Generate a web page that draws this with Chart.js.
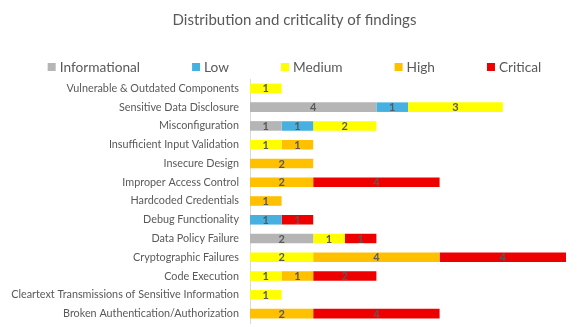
<!DOCTYPE html>
<html>
<head>
<meta charset="utf-8">
<script src="https://cdn.jsdelivr.net/npm/chart.js@4.4.1/dist/chart.umd.min.js"></script>
<style>
  html, body { margin: 0; padding: 0; background: #ffffff; }
  #wrap { width: 578px; height: 327px; position: relative; }
</style>
</head>
<body>
<div id="wrap"><canvas id="c"></canvas></div>
<script>
const categories = [
  "Vulnerable & Outdated Components",
  "Sensitive Data Disclosure",
  "Misconfiguration",
  "Insufficient Input Validation",
  "Insecure Design",
  "Improper Access Control",
  "Hardcoded Credentials",
  "Debug Functionality",
  "Data Policy Failure",
  "Cryptographic Failures",
  "Code Execution",
  "Cleartext Transmissions of Sensitive Information",
  "Broken Authentication/Authorization"
];
const seriesNames = ["Informational", "Low", "Medium", "High", "Critical"];
const informational = [0, 4, 1, 0, 0, 0, 0, 0, 2, 0, 0, 0, 0];
const low           = [0, 1, 1, 0, 0, 0, 0, 1, 0, 0, 0, 0, 0];
const medium        = [1, 3, 2, 1, 0, 0, 0, 0, 1, 2, 1, 1, 0];
const high          = [0, 0, 0, 1, 2, 2, 1, 0, 0, 4, 1, 0, 2];
const critical      = [0, 0, 0, 0, 0, 4, 0, 1, 1, 4, 2, 0, 4];
const seriesColors = ["#B5B5B5", "#46B0E1", "#FFFF00", "#FFC000", "#EE0000"];
const seriesValues = [informational, low, medium, high, critical];

const FONT = "Lato, 'Liberation Sans', sans-serif";

const barLabels = {
  id: 'barLabels',
  afterDatasetsDraw(chart) {
    const ctx = chart.ctx;
    ctx.save();
    ctx.font = "bold 11px " + FONT;
    ctx.fillStyle = "#595959";
    ctx.textAlign = "center";
    ctx.textBaseline = "middle";
    chart.data.datasets.forEach((ds, i) => {
      const meta = chart.getDatasetMeta(i);
      meta.data.forEach((el, j) => {
        const v = ds.data[j];
        if (!v) return;
        ctx.fillText(String(v), (el.x + el.base) / 2, el.y + 0.5);
      });
    });
    ctx.restore();
  }
};

// Legend drawn from the dataset labels/colours with wide spacing
const wideLegend = {
  id: 'wideLegend',
  afterDraw(chart) {
    const ctx = chart.ctx;
    ctx.save();
    ctx.font = "13.7px " + FONT;
    ctx.textBaseline = "middle";
    ctx.textAlign = "left";
    const box = 8, gap = 4, spacing = 52, cy = 67, centerX = 294.5;
    const items = chart.data.datasets.map(ds => ({
      text: ds.label, color: ds.backgroundColor, w: ctx.measureText(ds.label).width
    }));
    const total = items.reduce((s, it) => s + box + gap + it.w, 0) + spacing * (items.length - 1);
    let x = centerX - total / 2;
    items.forEach(it => {
      ctx.fillStyle = it.color;
      ctx.fillRect(x, cy - box / 2, box, box);
      ctx.fillStyle = "#595959";
      ctx.fillText(it.text, x + box + gap, cy + 0.5);
      x += box + gap + it.w + spacing;
    });
    ctx.restore();
  }
};

new Chart(document.getElementById('c'), {
  type: 'bar',
  data: {
    labels: categories,
    datasets: seriesNames.map((name, i) => ({
      label: name,
      data: seriesValues[i],
      backgroundColor: seriesColors[i],
      borderWidth: 0,
      categoryPercentage: 1,
      barPercentage: 0.51
    }))
  },
  options: {
    indexAxis: 'y',
    responsive: true,
    maintainAspectRatio: false,
    animation: false,
    layout: { padding: { top: 0, left: 11, right: 0, bottom: 4 } },
    scales: {
      x: {
        stacked: true,
        display: false,
        min: 0,
        max: 10.38
      },
      y: {
        stacked: true,
        grid: { display: false, drawTicks: false },
        border: { display: true, color: '#D9D9D9', width: 1 },
        ticks: {
          padding: 11,
          color: '#595959',
          font: { family: FONT, size: 10.8 },
          autoSkip: false
        },
        afterFit(scale) {
          scale.width = 239;
          scale.paddingTop = 0;
          scale.paddingBottom = 0;
        }
      }
    },
    plugins: {
      title: {
        display: true,
        text: 'Distribution and criticality of findings',
        color: '#595959',
        font: { family: FONT, size: 15, weight: 'normal' },
        padding: { top: 11, bottom: 50 }
      },
      legend: { display: false },
      tooltip: { enabled: false }
    }
  },
  plugins: [barLabels, wideLegend]
});
</script>
</body>
</html>
